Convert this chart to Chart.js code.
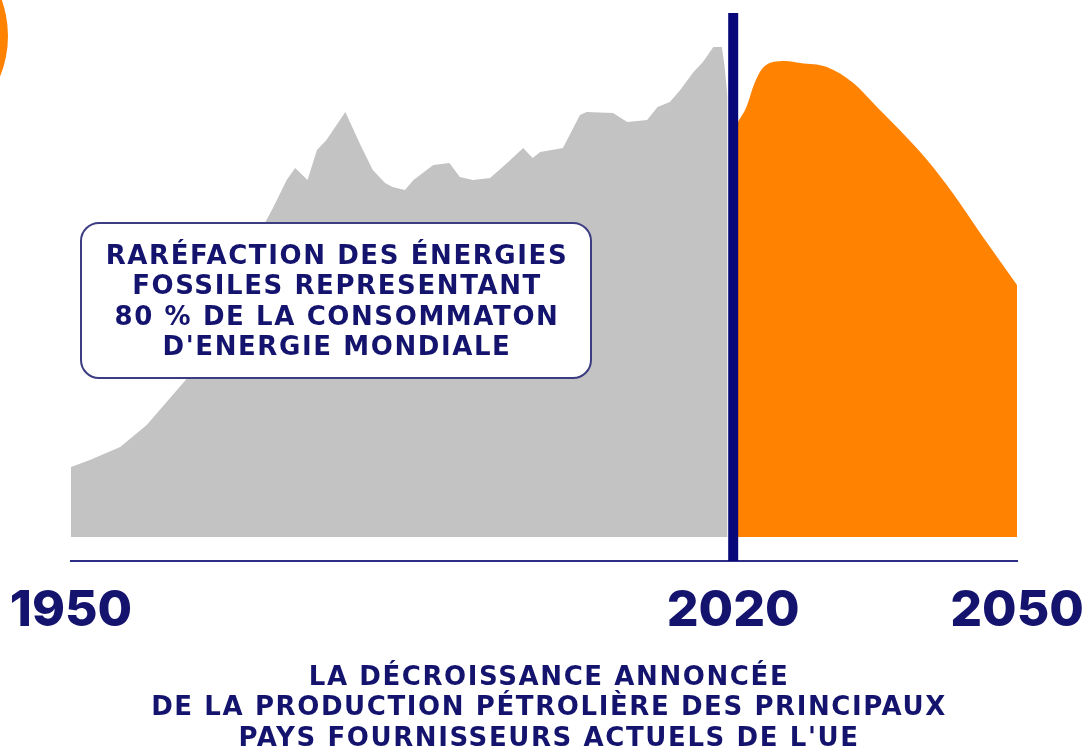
<!DOCTYPE html>
<html>
<head>
<meta charset="utf-8">
<script src="https://cdn.jsdelivr.net/npm/chart.js@4.4.1/dist/chart.umd.min.js"></script>
<style>
  html, body { margin: 0; padding: 0; background: #fff; }
  #wrap { width: 1088px; height: 755px; }
</style>
</head>
<body>
<div id="wrap"><canvas id="oilChart" width="1088" height="755"></canvas></div>
<script>
// Production curve (relative index, 0 = baseline)
const pastYears = [1950, 1952, 1955.2, 1958, 1959.1, 1962.3, 1970.5, 1971.4, 1972.8, 1973.7,
  1975, 1976, 1977, 1979, 1980.5, 1981.9, 1983.2, 1984, 1985.3, 1986.2,
  1988.3, 1990, 1991.1, 1992.5, 1994.3, 1996.1, 1997.8, 1998.8, 1999.6, 2002,
  2003.8, 2004.5, 2007.3, 2008.8, 2010.9, 2012, 2013.3, 2014.4, 2015.8, 2016.8,
  2017.9, 2018.8, 2019.1, 2019.4];
const pastValues = [14, 15.4, 18, 22.4, 24.8, 31.8, 62.8, 66, 71.4, 73.8,
  71.4, 77.4, 79.4, 85, 78.8, 73.4, 70.8, 70, 69.4, 71.4,
  74.4, 74.8, 72, 71.4, 71.8, 74.8, 77.8, 75.8, 77, 77.8,
  84.4, 85, 84.8, 83, 83.4, 86, 87, 89.4, 93, 95,
  98, 98, 94, 88];

const futureYears = [2020.5, 2021.4, 2022.2, 2023, 2024.2, 2025.5, 2027.1, 2029.9, 2032.7, 2035.2,
  2037.6, 2040.5, 2043.2, 2046.4, 2050];
const futureValues = [83, 86, 90.5, 93.5, 95, 95.2, 94.8, 94, 90.8, 86,
  81.4, 75.4, 68.8, 60, 50.4];

const tickYears = [1950, 2020, 2050];
const markerYear = 2020;
const yMin = -4.8;
const yMax = 104.8;

const boxLines = [
  "RARÉFACTION DES ÉNERGIES",
  "FOSSILES REPRESENTANT",
  "80 % DE LA CONSOMMATON",
  "D'ENERGIE MONDIALE",
];
const titleLines = [
  "LA DÉCROISSANCE ANNONCÉE",
  "DE LA PRODUCTION PÉTROLIÈRE DES PRINCIPAUX",
  "PAYS FOURNISSEURS ACTUELS DE L'UE",
];

const NAVY = "#14146e";
const LINE_NAVY = "#08087a";
const DOT_NAVY = "#2e2e86";
const GREY = "#c3c3c3";
const ORANGE = "#ff8200";
const FONT = "Inter, 'Open Sans', sans-serif";
const TEXT_FONT = "'DejaVu Sans', Inter, sans-serif";

const toPoints = (xs, ys) => xs.map((x, i) => ({ x, y: ys[i] }));

function roundRect(ctx, x, y, w, h, r) {
  ctx.beginPath();
  ctx.moveTo(x + r, y);
  ctx.lineTo(x + w - r, y);
  ctx.arcTo(x + w, y, x + w, y + r, r);
  ctx.lineTo(x + w, y + h - r);
  ctx.arcTo(x + w, y + h, x + w - r, y + h, r);
  ctx.lineTo(x + r, y + h);
  ctx.arcTo(x, y + h, x, y + h - r, r);
  ctx.lineTo(x, y + r);
  ctx.arcTo(x, y, x + r, y, r);
  ctx.closePath();
}

// decorations: corner disc, annotation box, bottom caption
const decorPlugin = {
  id: "decor",
  beforeDraw(chart) {
    const ctx = chart.ctx;
    ctx.save();
    ctx.fillStyle = ORANGE;
    ctx.beginPath();
    ctx.arc(-100, 36, 108, 0, Math.PI * 2);
    ctx.fill();
    ctx.restore();
  },
  afterDatasetsDraw(chart) {
    const ctx = chart.ctx;
    ctx.save();
    roundRect(ctx, 81, 223, 510, 155, 18);
    ctx.fillStyle = "#fff";
    ctx.fill();
    ctx.lineWidth = 2;
    ctx.strokeStyle = "#3c3c82";
    ctx.stroke();

    ctx.fillStyle = NAVY;
    ctx.textAlign = "center";
    ctx.textBaseline = "middle";
    ctx.font = "bold 26px " + TEXT_FONT;
    ctx.letterSpacing = "1.6px";
    boxLines.forEach((t, i) => ctx.fillText(t, 337, 257 + i * 30.5));
    ctx.restore();
  },
  afterDraw(chart) {
    const ctx = chart.ctx;
    ctx.save();
    ctx.fillStyle = NAVY;
    ctx.textAlign = "center";
    ctx.textBaseline = "middle";
    ctx.font = "bold 26px " + TEXT_FONT;
    ctx.letterSpacing = "1.6px";
    titleLines.forEach((t, i) => ctx.fillText(t, 549, 678 + i * 30.5));
    ctx.restore();
  },
};

const ctx = document.getElementById("oilChart").getContext("2d");

new Chart(ctx, {
  type: "line",
  data: {
    datasets: [
      {
        label: "2020",
        data: [{ x: markerYear, y: yMin }, { x: markerYear, y: yMax }],
        borderColor: LINE_NAVY,
        borderWidth: 10,
        pointRadius: 0,
        fill: false,
      },
      {
        label: "Production passée",
        data: toPoints(pastYears, pastValues),
        backgroundColor: GREY,
        borderWidth: 0,
        pointRadius: 0,
        tension: 0,
        fill: "origin",
      },
      {
        label: "Production annoncée",
        data: toPoints(futureYears, futureValues),
        backgroundColor: ORANGE,
        borderWidth: 0,
        pointRadius: 0,
        cubicInterpolationMode: "monotone",
        fill: "origin",
      },
    ],
  },
  options: {
    responsive: false,
    animation: false,
    layout: { padding: { left: 71, right: 71, top: 13, bottom: 114 } },
    plugins: {
      legend: { display: false },
      tooltip: { enabled: false },
    },
    scales: {
      x: {
        type: "linear",
        min: 1950,
        max: 2050,
        afterBuildTicks: (axis) => {
          axis.ticks = tickYears.map((v) => ({ value: v }));
        },
        afterFit: (axis) => {
          axis.height = 80;
          axis.paddingLeft = 0;
          axis.paddingRight = 0;
        },
        grid: { display: false, drawTicks: false },
        border: { display: true, color: DOT_NAVY, width: 2, dash: [3, 2] },
        ticks: {
          color: NAVY,
          font: { family: FONT, size: 50, weight: "800" },
          padding: 20,
          maxRotation: 0,
          autoSkip: false,
          callback: (v) => String(v),
        },
      },
      y: { display: false, min: yMin, max: yMax },
    },
  },
  plugins: [decorPlugin],
});
</script>
</body>
</html>
